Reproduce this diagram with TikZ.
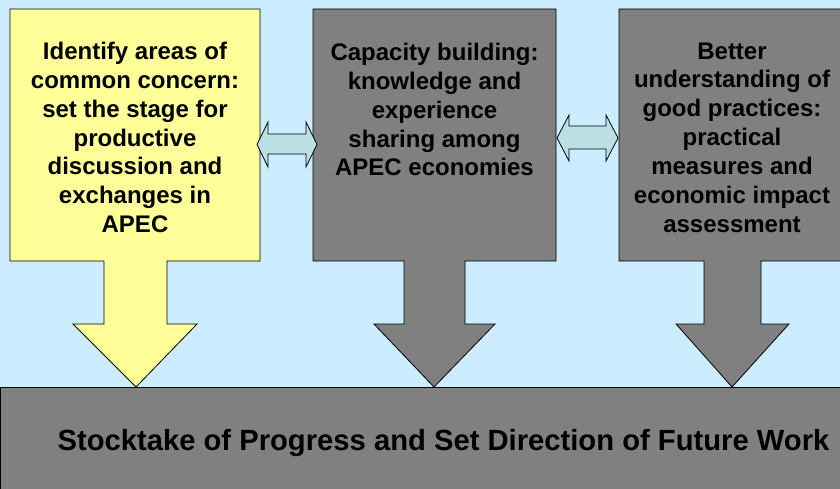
\documentclass[tikz,border=0pt]{standalone}
\usepackage{fontspec}
\setmainfont{Liberation Sans}
\definecolor{bgblue}{HTML}{CCECFF}
\definecolor{boxyellow}{HTML}{FFFF99}
\definecolor{boxgray}{HTML}{808080}
\definecolor{arrteal}{HTML}{BBE0E3}
\begin{document}
\begin{tikzpicture}[x=1pt,y=-1pt,
  outl/.style={draw=black,line width=0.8pt,line join=miter},
  boxtext/.style={align=center,inner sep=0pt,anchor=base,font=\bfseries\fontsize{24}{28.8}\selectfont},
  bottext/.style={inner sep=0pt,anchor=base,font=\bfseries\fontsize{29.2}{34}\selectfont}]
\fill[bgblue] (0,0) rectangle (840,489);
\useasboundingbox (0,0) rectangle (840,489);
% left callout (yellow)
\draw[outl,fill=boxyellow] (10,9) -- (260,9) -- (260,261) -- (167,261) -- (167,324) -- (197,324)
  -- (136,387) -- (73,324) -- (104,324) -- (104,261) -- (10,261) -- cycle;
% middle callout
\draw[outl,fill=boxgray] (313,9) -- (556,9) -- (556,261) -- (465,261) -- (465,324) -- (495,324)
  -- (434,387) -- (374,324) -- (404,324) -- (404,261) -- (313,261) -- cycle;
% right callout
\draw[outl,fill=boxgray] (619,9) -- (846,9) -- (846,261) -- (761,261) -- (761,324) -- (789,324)
  -- (732,387) -- (676,324) -- (704,324) -- (704,261) -- (619,261) -- cycle;
% bottom bar
\draw[outl,fill=boxgray] (0.5,387) rectangle (846,495);
% double arrows
\draw[outl,fill=arrteal] (257,144.5) -- (268,122) -- (268,134) -- (306,134) -- (306,122) -- (317,144.5)
  -- (306,167) -- (306,154) -- (268,154) -- (268,167) -- cycle;
\draw[outl,fill=arrteal] (557,138) -- (569,115) -- (569,126) -- (606,126) -- (606,115) -- (618,138)
  -- (606,161) -- (606,149) -- (569,149) -- (569,161) -- cycle;
% texts (base anchor = baseline of last line)
\node[boxtext] (t1) at (135,232.5) {Identify areas of\\common concern:\\set the stage for\\productive\\discussion and\\exchanges in\\APEC};
\node[boxtext] (t2) at (434.5,176) {Capacity building:\\knowledge and\\experience\\sharing among\\APEC economies};
\node[boxtext] (t3) at (732,232) {Better\\understanding of\\good practices:\\practical\\measures and\\economic impact\\assessment};
\node[bottext] (t4) at (443.5,450) {Stocktake of Progress and Set Direction of Future Work};
\end{tikzpicture}
\end{document}
